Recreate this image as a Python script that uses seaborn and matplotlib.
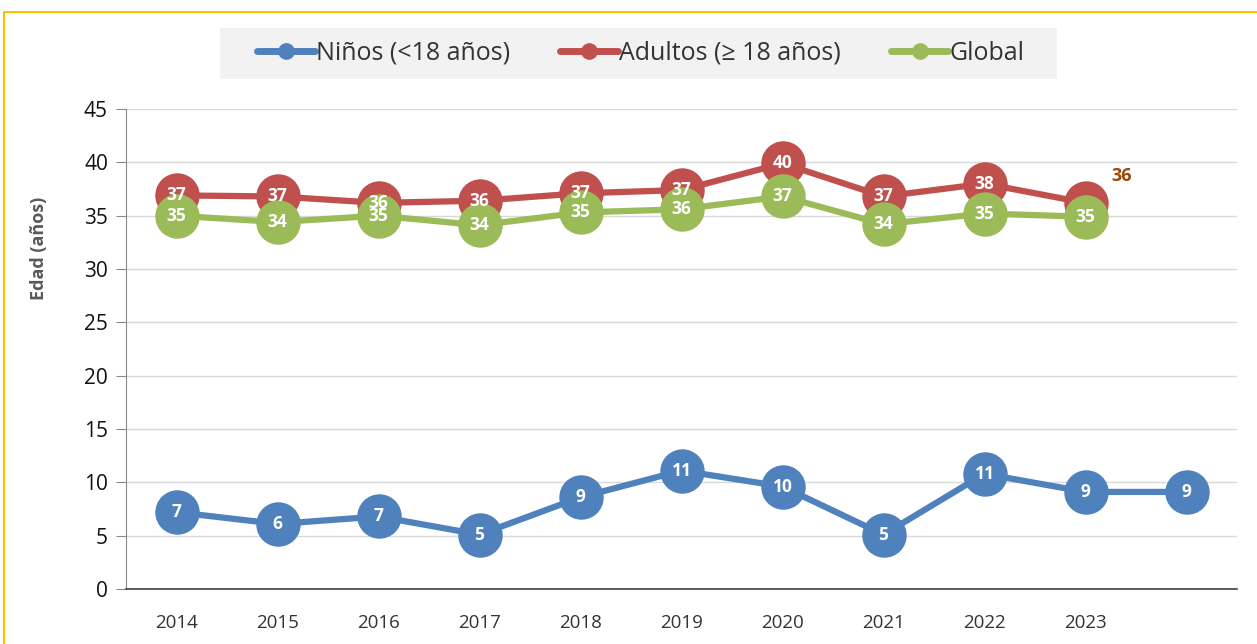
import seaborn as sns
import matplotlib.pyplot as plt
import pandas as pd
from matplotlib.patches import Rectangle

# datos
anios = ["2014", "2015", "2016", "2017", "2018", "2019", "2020", "2021", "2022", "2023", ""]
ninos = [7.2, 6.1, 6.8, 5.1, 8.6, 11.1, 9.6, 5.1, 10.8, 9.1, 9.1]
adultos = [36.9, 36.8, 36.2, 36.4, 37.1, 37.4, 39.9, 36.8, 38.0, 36.2]
glob = [35.0, 34.4, 35.0, 34.1, 35.3, 35.6, 36.8, 34.2, 35.2, 34.9]
series = ["Niños (<18 años)", "Adultos (≥ 18 años)", "Global"]
colores = ["#4f81bd", "#c0504d", "#9bbb59"]

filas = []
for nombre, vals in zip(series, [ninos, adultos, glob]):
    for i, v in enumerate(vals):
        filas.append({"pos": i, "serie": nombre, "edad": v})
df = pd.DataFrame(filas)

sns.set_style("white")
plt.rcParams['font.family'] = ['Open Sans', 'DejaVu Sans']

fig = plt.figure(figsize=(12.57, 6.44), dpi=100)
ax = fig.add_axes([126/1257, 55/644, 1111/1257, 480/644])

sns.lineplot(data=df, x="pos", y="edad", hue="serie", hue_order=series, palette=colores,
             marker="o", markersize=32, linewidth=4.5, markeredgewidth=0, ax=ax,
             legend=False, zorder=3)

# etiquetas
for nombre, vals in zip(series, [ninos, adultos, glob]):
    for i, v in enumerate(vals):
        if nombre == series[1] and i == len(vals) - 1:
            ax.annotate(f"{v:.0f}", (i, v), xytext=(26, 19), textcoords="offset points",
                        ha="center", va="center", color="#984807", fontsize=13,
                        fontweight="bold", zorder=5)
        else:
            ax.text(i, v, f"{v:.0f}", ha="center", va="center", color="white",
                    fontsize=12.5, fontweight="bold", zorder=5)

ax.set_xlim(-0.5, 10.5)
ax.set_ylim(0, 45)
ax.set_yticks(range(0, 46, 5))
ax.set_xticks(range(len(anios)))
ax.set_xticklabels(anios)
ax.tick_params(axis="y", labelsize=15, colors="#111111", length=7, color="#888888", left=True, pad=6)
ax.tick_params(axis="x", labelsize=13.5, colors="#333333", length=0, pad=18)
ax.grid(axis="y", color="#d9d9d9", linewidth=1)
ax.set_axisbelow(True)
for s in ["top", "right"]:
    ax.spines[s].set_visible(False)
ax.spines["left"].set_color("#888888")
ax.spines["bottom"].set_color("#404040")
ax.spines["bottom"].set_linewidth(1.2)
ax.set_xlabel("")
ax.set_ylabel("Edad (años)", fontsize=13, fontweight="bold", color="#595959")
ax.yaxis.set_label_coords(-0.07, 0.71)

# leyenda
fig.patches.append(Rectangle((220/1257, 1 - 79/644), 837/1257, 51/644, transform=fig.transFigure,
                             facecolor="#f2f2f2", edgecolor="none", zorder=0))
manejadores = [plt.Line2D([], [], color=c, marker="o", markersize=11, linewidth=5) for c in colores]
leg = fig.legend(manejadores, series, loc="center", bbox_to_anchor=(641/1257, 1 - 53/644),
                 ncol=3, frameon=False, fontsize=18, handlelength=2.3, handletextpad=0.05,
                 columnspacing=2.0)
for t in leg.get_texts():
    t.set_color("#333333")

# borde amarillo
fig.patches.append(Rectangle((4/1257, -0.01), 1.01, 1 - 12/644 + 0.01, transform=fig.transFigure,
                             fill=False, edgecolor="#ffc000", linewidth=1.5))

fig.savefig("out.png", dpi=100, facecolor="white")
